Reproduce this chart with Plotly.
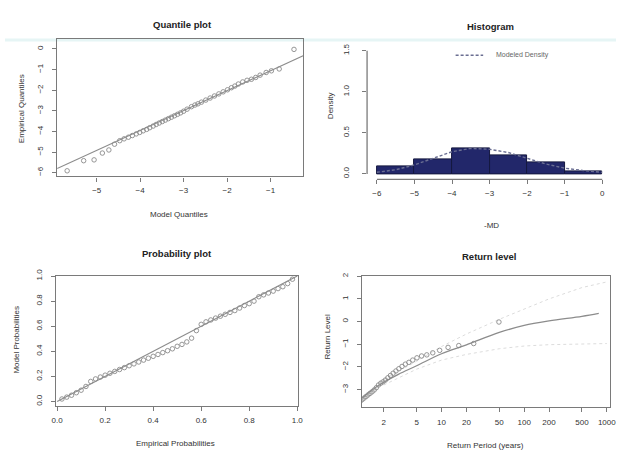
import plotly.graph_objects as go

# ---------------- data ----------------
# Quantile plot (model vs empirical quantiles)
model_quantiles = [-5.68, -5.30, -5.06, -4.87, -4.72, -4.59, -4.47, -4.37, -4.27, -4.18,
                   -4.09, -4.01, -3.93, -3.85, -3.78, -3.70, -3.63, -3.56, -3.49, -3.42,
                   -3.35, -3.28, -3.21, -3.14, -3.07, -3.00, -2.92, -2.82, -2.74, -2.67,
                   -2.59, -2.49, -2.39, -2.29, -2.19, -2.09, -1.99, -1.90, -1.82, -1.74,
                   -1.64, -1.54, -1.44, -1.34, -1.24, -1.10, -0.98, -0.80, -0.46]
empirical_quantiles = [-5.91, -5.42, -5.38, -5.05, -4.90, -4.62, -4.45, -4.36, -4.28, -4.20,
                       -4.12, -4.05, -3.97, -3.90, -3.82, -3.74, -3.66, -3.59, -3.52, -3.45,
                       -3.38, -3.31, -3.24, -3.17, -3.10, -3.02, -2.92, -2.80, -2.72, -2.66,
                       -2.58, -2.48, -2.38, -2.28, -2.18, -2.08, -1.98, -1.88, -1.80, -1.70,
                       -1.60, -1.52, -1.47, -1.38, -1.27, -1.14, -1.06, -0.97, -0.02]
qq_intercept = -0.09
qq_slope = 0.966

# Histogram
hist_bin_left = [-6, -5, -4, -3, -2, -1]
hist_bin_width = [1, 1, 1, 1, 1, 1]
hist_density = [0.095, 0.18, 0.31, 0.22, 0.14, 0.035]
density_x = [-6, -5.5, -5, -4.5, -4, -3.5, -3, -2.5, -2, -1.5, -1, -0.5, 0]
density_y = [0.02, 0.05, 0.11, 0.19, 0.27, 0.31, 0.30, 0.26, 0.19, 0.12, 0.07, 0.04, 0.02]

# Probability plot
empirical_prob = [0.02, 0.04, 0.06, 0.08, 0.10, 0.12, 0.14, 0.16, 0.18, 0.20,
                  0.22, 0.24, 0.26, 0.28, 0.30, 0.32, 0.34, 0.36, 0.38, 0.40,
                  0.42, 0.44, 0.46, 0.48, 0.50, 0.52, 0.54, 0.56, 0.58, 0.60,
                  0.62, 0.64, 0.66, 0.68, 0.70, 0.72, 0.74, 0.76, 0.78, 0.80,
                  0.82, 0.84, 0.86, 0.88, 0.90, 0.92, 0.94, 0.96, 0.98]
model_prob = [0.02, 0.035, 0.05, 0.07, 0.09, 0.12, 0.16, 0.18, 0.195, 0.21,
              0.225, 0.24, 0.255, 0.27, 0.285, 0.30, 0.315, 0.33, 0.345, 0.36,
              0.375, 0.39, 0.405, 0.42, 0.44, 0.455, 0.475, 0.505, 0.565, 0.615,
              0.635, 0.65, 0.665, 0.68, 0.695, 0.71, 0.725, 0.745, 0.765, 0.78,
              0.80, 0.835, 0.85, 0.865, 0.88, 0.90, 0.915, 0.94, 0.975]

# Return level plot
return_period_pts = [0.256, 0.311, 0.355, 0.396, 0.434, 0.472, 0.509, 0.546, 0.583, 0.621,
                     0.660, 0.701, 0.742, 0.786, 0.831, 0.878, 0.927, 0.979, 1.033, 1.091,
                     1.152, 1.218, 1.287, 1.362, 1.443, 1.529, 1.623, 1.725, 1.836, 1.958,
                     2.091, 2.240, 2.406, 2.593, 2.804, 3.044, 3.321, 3.644, 4.026, 4.481,
                     5.039, 5.736, 6.626, 7.823, 9.491, 11.99, 16.16, 24.49, 49.50]
return_level_pts = empirical_quantiles
rl_period = [1.05, 1.16, 1.4, 2, 3, 5, 10, 20, 50, 100, 200, 500, 800]
rl_level = [-3.42, -3.30, -3.05, -2.68, -2.33, -1.95, -1.42, -1.03, -0.48, -0.17, 0.03, 0.23, 0.36]
ci_period = [2, 5, 10, 20, 50, 100, 200, 500, 1000]
ci_upper = [-2.55, -1.75, -1.10, -0.55, 0.10, 0.55, 1.00, 1.50, 1.75]
ci_lower = [-2.80, -2.10, -1.70, -1.45, -1.20, -1.08, -1.02, -0.98, -0.97]

rl_tickvals = [2, 5, 10, 20, 50, 100, 200, 500, 1000]
rl_ticktext = ["2", "5", "10", "20", "50", "100", "200", "500", "1000"]

# ---------------- styling ----------------
W, H = 621, 455
FONT = "Liberation Sans, Arial, sans-serif"
TXT = "#333333"
BOX = "#7a7a7a"
PT = "#8a8a8a"
NAVY = "#22276a"
DENS = "#6a6e92"


def px_x(p):
    return p / W


def px_y(p):
    return 1 - p / H


fig = go.Figure()

mk = dict(symbol="circle-open", size=4.5, color=PT, line=dict(width=0.9))

# --- quantile plot ---
fig.add_trace(go.Scatter(x=model_quantiles, y=empirical_quantiles, mode="markers", marker=mk,
                         xaxis="x", yaxis="y", showlegend=False))
qx_range = [-5.91, -0.25]
fig.add_trace(go.Scatter(x=qx_range, y=[qq_intercept + qq_slope * v for v in qx_range], mode="lines",
                         line=dict(color="#8c8c8c", width=1.2), xaxis="x", yaxis="y", showlegend=False))

# --- histogram ---
fig.add_trace(go.Bar(x=[l + w / 2 for l, w in zip(hist_bin_left, hist_bin_width)], y=hist_density,
                     width=hist_bin_width, marker=dict(color=NAVY, line=dict(color="#15183f", width=1)),
                     xaxis="x2", yaxis="y2", showlegend=False))
fig.add_trace(go.Scatter(x=density_x, y=density_y, mode="lines",
                         line=dict(color=DENS, width=1.4, dash="3px,2px"),
                         xaxis="x2", yaxis="y2", showlegend=False))

# --- probability plot ---
fig.add_trace(go.Scatter(x=empirical_prob, y=model_prob, mode="markers", marker=mk,
                         xaxis="x3", yaxis="y3", showlegend=False))
fig.add_trace(go.Scatter(x=[0, 1], y=[0, 1], mode="lines",
                         line=dict(color="#8c8c8c", width=1.2), xaxis="x3", yaxis="y3", showlegend=False))

# --- return level ---
fig.add_trace(go.Scatter(x=ci_period, y=ci_upper, mode="lines", line=dict(color="#dcdcdc", width=1, dash="dot"),
                         xaxis="x4", yaxis="y4", showlegend=False))
fig.add_trace(go.Scatter(x=ci_period, y=ci_lower, mode="lines", line=dict(color="#dcdcdc", width=1, dash="dot"),
                         xaxis="x4", yaxis="y4", showlegend=False))
fig.add_trace(go.Scatter(x=rl_period, y=rl_level, mode="lines", line=dict(color="#8c8c8c", width=1.3, shape="spline"),
                         xaxis="x4", yaxis="y4", showlegend=False))
fig.add_trace(go.Scatter(x=return_period_pts, y=return_level_pts, mode="markers", marker=mk,
                         xaxis="x4", yaxis="y4", showlegend=False))

tickfont = dict(family=FONT, size=8, color=TXT)
common = dict(ticks="outside", ticklen=4, tickcolor=BOX, tickwidth=1, showgrid=False, zeroline=False,
              tickfont=tickfont, linecolor=BOX, linewidth=1.3)

fig.update_layout(
    width=W, height=H, margin=dict(l=0, r=0, t=0, b=0),
    paper_bgcolor="white", plot_bgcolor="white", bargap=0,
    xaxis=dict(domain=[px_x(53), px_x(303)], range=[-5.91, -0.25], anchor="y",
               tickvals=[-5, -4, -3, -2, -1], showline=True, mirror=True, ticklabelstandoff=2, **common),
    yaxis=dict(domain=[px_y(172), px_y(33)], range=[-6.18, 0.46], anchor="x",
               tickvals=[0, -1, -2, -3, -4, -5, -6], tickangle=-90, showline=True, mirror=True,
               ticklabelstandoff=6, **common),
    xaxis2=dict(domain=[px_x(368), px_x(612)], range=[-6.262, 0.131], anchor="y2",
                tickvals=[-6, -5, -4, -3, -2, -1, 0], showline=False, ticklabelstandoff=2, **common),
    yaxis2=dict(domain=[px_y(175), px_y(40)], range=[-0.066, 1.553], anchor="x2",
                tickvals=[0, 0.5, 1.0, 1.5], ticktext=["0.0", "0.5", "1.0", "1.5"], tickangle=-90,
                showline=False, ticklabelstandoff=10, **common),
    xaxis3=dict(domain=[px_x(52), px_x(298)], range=[-0.004, 1.004], anchor="y3",
                tickvals=[0, 0.2, 0.4, 0.6, 0.8, 1.0], ticktext=["0.0", "0.2", "0.4", "0.6", "0.8", "1.0"],
                showline=True, mirror=True, ticklabelstandoff=2, **common),
    yaxis3=dict(domain=[px_y(405), px_y(273)], range=[-0.034, 1.002], anchor="x3",
                tickvals=[0, 0.2, 0.4, 0.6, 0.8, 1.0], ticktext=["0.0", "0.2", "0.4", "0.6", "0.8", "1.0"],
                tickangle=-90, showline=True, mirror=True, ticklabelstandoff=6, **common),
    xaxis4=dict(domain=[px_x(363), px_x(615)], type="log", range=[0.039, 3.04], anchor="y4",
                tickvals=rl_tickvals, ticktext=rl_ticktext, showline=True, mirror=True,
                ticklabelstandoff=3, **common),
    yaxis4=dict(domain=[px_y(406), px_y(273)], range=[-3.76, 2.02], anchor="x4",
                tickvals=[-3, -2, -1, 0, 1, 2], tickangle=-90, showline=True, mirror=True,
                ticklabelstandoff=6, **common),
)

shapes = [
    # faint scan band across the top
    dict(type="rect", xref="paper", yref="paper", x0=0, x1=1, y0=px_y(35), y1=px_y(32),
         fillcolor="#e6f5f5", line=dict(width=0), layer="below"),
    # histogram axis lines (R style)
    dict(type="line", xref="x2", yref="y2 domain", x0=-6, x1=0, y0=0, y1=0,
         line=dict(color=BOX, width=1.3)),
    dict(type="line", xref="x2 domain", yref="y2", x0=0, x1=0, y0=0, y1=1.5,
         line=dict(color=BOX, width=1.3)),
    # legend dashed sample
    dict(type="line", xref="paper", yref="paper", x0=px_x(458), x1=px_x(486), y0=px_y(49), y1=px_y(49),
         line=dict(color=DENS, width=1.4, dash="3px,2px")),
]
fig.update_layout(shapes=shapes)


def ann(text, x, y, size=8, bold=False, angle=0, color=TXT):
    return dict(text=("<b>%s</b>" % text) if bold else text, x=px_x(x), y=px_y(y),
                xref="paper", yref="paper", showarrow=False, xanchor="center", yanchor="middle",
                textangle=angle, font=dict(family=FONT, size=size, color=color))


annotations = [
    ann("Quantile plot", 180, 18, 9.5, True, color="#222"),
    ann("Model Quantiles", 177, 211),
    ann("Empirical Quantiles", 17, 103, angle=-90),
    ann("Histogram", 493, 20, 9.5, True, color="#222"),
    ann("-MD", 494, 222),
    ann("Density", 331, 100, angle=-90),
    dict(text="Modeled Density", x=px_x(497), y=px_y(49), xref="paper", yref="paper", showarrow=False,
         xanchor="left", yanchor="middle", font=dict(family=FONT, size=7, color="#666")),
    ann("Probability plot", 175, 250, 9.5, True, color="#222"),
    ann("Empirical Probabilities", 173, 443),
    ann("Model Probabilities", 12, 338, angle=-90),
    ann("Return level", 492, 253, 9.5, True, color="#222"),
    ann("Return Period (years)", 488, 445),
    ann("Return Level", 328, 335, angle=-90),
]
fig.update_layout(annotations=annotations)

fig.write_html("out.html")
